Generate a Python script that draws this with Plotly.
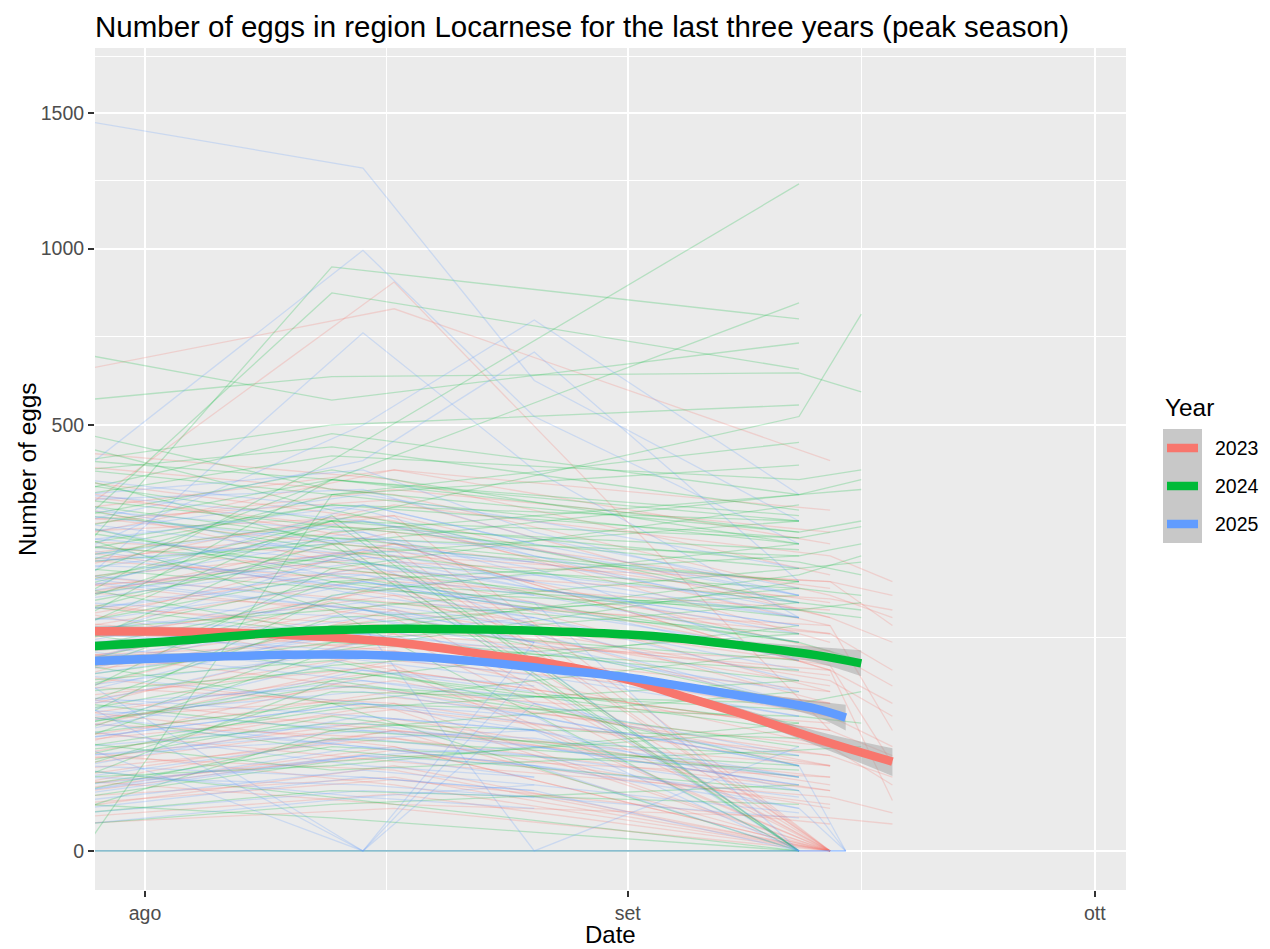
import numpy as np
import plotly.graph_objects as go

# ---------------- data (values read / estimated from the picture) ----------------
YEARS = ["2023", "2024", "2025"]
COLORS = ["#F8766D", "#00BA38", "#619CFF"]

dates_2023 = ["2025-07-27", "2025-08-17", "2025-09-14", "2025-09-18"]
traps_2023 = [
    [630, 810, 420, None], [300, 892, 40, None], [410, 350, 180, 150], [240, 310, 150, None],
    [180, 260, 90, 60], [350, 280, 0, None], [120, 190, 60, None], [90, 140, 110, 75],
    [60, 110, 30, None], [200, 150, 0, None], [150, 230, 200, 140], [45, 80, 20, None],
    [25, 60, 0, None], [270, 400, 320, None], [330, 210, 70, None], [100, 170, 140, None],
    [160, 90, 40, 25], [80, 200, 0, None], [220, 330, 240, 200], [20, 45, 10, None],
    [130, 120, 100, None], [380, 300, 120, None], [70, 160, 80, 50], [10, 30, 0, None],
    [250, 180, 50, None], [140, 260, 170, None], [5, 20, 0, None], [190, 240, 0, None],
    [110, 70, 25, 15], [290, 360, 280, None], [40, 100, 60, None], [170, 130, 0, None],
    [230, 290, 140, 40], [85, 55, 0, None], [440, 380, 210, None], [55, 130, 90, 7],
    [310, 250, 0, None], [30, 90, 40, None], [210, 170, 95, 21], [15, 40, 0, None],
    [0, 0, 0, None],
    [260, 210, 130, None], [95, 150, 75, None], [175, 280, 190, None], [35, 70, 45, None],
    [300, 340, 150, 120], [145, 110, 60, None], [65, 95, 0, None], [205, 250, 110, None],
    [125, 180, 130, 90], [12, 25, 15, None], [360, 260, 90, None], [50, 90, 0, None],
    [235, 200, 160, None], [105, 120, 50, 30], [280, 310, 0, None], [165, 140, 85, None],
    [75, 60, 20, None], [195, 215, 175, 160], [8, 15, 0, None], [320, 400, 260, None],
    [135, 210, 100, None], [45, 35, 10, None], [185, 160, 0, None], [265, 240, 200, 180],
    [90, 115, 70, None],
    [18, 35, 5, None], [6, 14, 2, None], [28, 12, 0, None], [40, 22, 8, 4],
    [3, 9, 0, None], [22, 48, 12, None], [55, 30, 0, None], [14, 6, 3, 2],
    [33, 55, 25, None], [9, 28, 6, None], [65, 40, 15, None], [2, 5, 0, None],
    [48, 65, 30, 12], [25, 18, 0, None], [12, 40, 20, None],
]

dates_2024 = ["2025-07-28", "2025-08-13", "2025-09-12", "2025-09-16"]
traps_2024 = [
    [250, 940, 780, None], [300, 858, 640, None], [180, 420, 1226, None], [680, 560, 711, None],
    [560, 620, 630, 581], [150, 380, 828, None], [200, 300, 520, 794], [420, 500, 548, None],
    [0, 350, 460, None], [350, 430, 380, 400], [260, 330, 300, None], [120, 280, 350, 360],
    [380, 260, 200, None], [90, 200, 240, None], [220, 190, 160, 150], [310, 400, 260, None],
    [60, 150, 180, None], [170, 240, 120, 100], [480, 360, 280, None], [140, 310, 0, None],
    [40, 120, 90, None], [280, 220, 330, None], [100, 170, 60, 70], [230, 350, 410, None],
    [15, 80, 140, None], [330, 270, 0, None], [190, 130, 210, 240], [70, 220, 150, None],
    [400, 450, 320, None], [130, 90, 40, None], [25, 60, 110, None], [240, 300, 230, 210],
    [160, 260, 0, None], [450, 320, 170, None], [50, 180, 260, None], [290, 200, 120, None],
    [110, 140, 190, 180], [360, 480, 350, None], [80, 100, 20, None], [210, 380, 280, 300],
    [5, 40, 70, None], [270, 160, 0, None], [35, 110, 200, None], [320, 250, 170, 160],
    [195, 290, 250, None], [0, 0, 0, None], [0, 0, 0, None],
    [180, 240, 300, None], [340, 290, 220, 230], [75, 140, 100, None], [250, 330, 270, None],
    [20, 70, 60, None], [400, 350, 260, None], [130, 200, 160, 170], [55, 95, 130, None],
    [290, 380, 310, None], [165, 130, 80, None], [10, 35, 20, None], [230, 260, 350, 380],
    [115, 175, 130, None], [370, 300, 0, None], [85, 120, 170, None], [205, 270, 200, None],
    [45, 80, 30, None], [310, 270, 240, 260], [145, 210, 120, None], [255, 230, 190, None],
    [95, 60, 0, None], [175, 300, 270, 290], [30, 55, 80, None], [420, 380, 300, None],
    [135, 160, 220, None],
    [12, 30, 18, None], [4, 10, 6, None], [28, 45, 35, None], [50, 28, 10, None],
    [8, 22, 40, None], [18, 8, 0, None], [38, 60, 50, 45], [2, 6, 12, None],
    [60, 40, 25, None], [22, 50, 15, None], [15, 20, 45, None], [45, 75, 55, None],
    [6, 3, 0, None], [32, 18, 28, 30], [70, 90, 45, None],
]

dates_2025 = ["2025-07-28", "2025-08-15", "2025-08-26", "2025-09-12", "2025-09-15"]
traps_2025 = [
    [1470, 1285, 610, 300, None], [400, 994, 520, 260, None], [250, 500, 777, 350, None],
    [300, 420, 686, 200, None], [200, 740, 400, 150, None], [350, 300, 250, None, 0],
    [120, 200, 160, None, 0], [80, 0, 120, 60, None], [60, 0, 90, None, 0],
    [180, 240, 200, None, 0], [260, 180, 150, 80, None], [40, 90, 70, None, 0],
    [150, 130, 100, 0, None], [90, 160, 140, None, 0], [220, 280, 190, 140, None],
    [20, 50, 40, 10, 0], [310, 260, 230, None, 0], [130, 110, 90, 50, None],
    [70, 140, 0, 30, None], [240, 190, 170, 0, None], [10, 30, 20, 0, None],
    [190, 330, 260, None, 0], [110, 80, 60, 25, None], [280, 350, 300, 220, None],
    [50, 70, 50, 0, None], [160, 210, 180, None, 0], [330, 230, 140, 70, None],
    [30, 0, 60, 20, 0], [210, 170, 120, None, 0], [100, 190, 210, 170, None],
    [140, 100, 80, 0, None], [380, 320, 240, 150, None], [60, 120, 100, None, 0],
    [230, 270, 220, 100, None], [15, 35, 25, 5, 0], [170, 150, 110, None, 0],
    [270, 230, 180, 120, None], [85, 60, 40, 0, None], [125, 250, 200, None, 0],
    [45, 105, 85, 50, None], [290, 200, 160, None, 0], [5, 15, 10, 0, 0],
    [200, 160, 130, 60, None], [95, 130, 150, None, 0], [350, 400, 280, 180, None],
    [0, 0, 0, 0, 0], [0, 0, 0, 0, 0], [0, 0, 0, 0, 0],
    [175, 230, 190, 140, None], [55, 80, 65, None, 0], [240, 300, 240, 170, None],
    [100, 150, 120, None, 0], [320, 280, 210, 150, None], [25, 40, 35, 15, None],
    [145, 200, 170, 100, None], [205, 160, 120, None, 0], [75, 110, 95, 55, None],
    [265, 330, 260, 180, None], [115, 90, 75, None, 0], [185, 250, 230, 160, None],
    [35, 60, 50, 20, None], [295, 240, 190, 130, None], [135, 170, 140, None, 0],
    [65, 50, 40, 15, None], [225, 210, 160, 110, None], [160, 220, 200, 150, None],
    [10, 25, 15, None, 0], [250, 190, 150, 90, None], [85, 130, 110, 70, None],
    [340, 360, 270, 190, None], [120, 140, 100, None, 0], [200, 270, 250, 180, None],
    [50, 30, 20, 5, None],
    [12, 25, 20, 8, None], [4, 10, 8, None, 0], [30, 45, 30, 12, None],
    [18, 8, 12, None, 0], [45, 30, 25, 10, None], [7, 18, 12, 4, None],
    [25, 35, 40, None, 0], [55, 40, 30, 15, None], [2, 8, 5, None, 0],
    [35, 60, 45, 25, None], [15, 12, 8, 3, None], [40, 20, 15, None, 0],
    [9, 25, 30, 12, None], [60, 75, 50, 20, None], [20, 15, 10, None, 0],
]

# smoothed trend per year with confidence band
smooth_dates_2023 = ["2025-07-28", "2025-08-07", "2025-08-17", "2025-08-23", "2025-08-27",
                     "2025-09-01", "2025-09-04", "2025-09-08", "2025-09-13", "2025-09-18"]
smooth_fit_2023 = [133, 131, 120, 106, 97, 81, 68, 53, 35, 22]
smooth_lo_2023 = [127, 126, 116, 102, 94, 78, 65, 50, 31, 15.5]
smooth_hi_2023 = [140, 136, 124, 109, 100, 84, 71, 57, 40, 29]

smooth_dates_2024 = ["2025-07-28", "2025-08-04", "2025-08-10", "2025-08-17", "2025-08-23", "2025-08-27",
                     "2025-09-01", "2025-09-04", "2025-09-08", "2025-09-13", "2025-09-16"]
smooth_fit_2024 = [115, 123, 132, 136, 135, 133, 129, 125, 117, 106, 97]
smooth_lo_2024 = [109, 118, 128, 132, 131, 129, 125, 121, 112, 98, 84]
smooth_hi_2024 = [120, 127, 136, 140, 139, 137, 133, 129, 122, 115, 111]

smooth_dates_2025 = ["2025-07-28", "2025-08-10", "2025-08-17", "2025-08-23", "2025-08-27",
                     "2025-09-01", "2025-09-04", "2025-09-08", "2025-09-13", "2025-09-15"]
smooth_fit_2025 = [99, 106, 105, 98, 91, 83, 76, 67, 56, 49]
smooth_lo_2025 = [94, 102, 101, 95, 88, 80, 73, 64, 50, 40]
smooth_hi_2025 = [105, 110, 109, 101, 94, 86, 79, 71, 62, 59]

y_tick_values = [0, 500, 1000, 1500]
x_tick_dates = ["2025-08-01", "2025-09-01", "2025-10-01"]
x_tick_labels = ["ago", "set", "ott"]
x_minor_dates = ["2025-08-16 12:00", "2025-09-16"]
x_range = ["2025-07-28 19:00", "2025-10-03 00:00"]
y_range_values = [-4.2, 1776.6]  # signed squares of the sqrt-scale panel limits

TITLE = "Number of eggs in region Locarnese for the last three years (peak season)"
FONT = "Liberation Sans, Arial, Helvetica, sans-serif"

# page geometry (the html body adds an 8 px margin around the figure)
PAGE_OFF = 8
FIG_W, FIG_H = 1254, 941
PANEL_L, PANEL_R, PANEL_T, PANEL_B = 95, 1126, 48, 890


def sq(vals):
    a = np.array(vals, dtype=float)
    return np.sign(a) * np.sqrt(np.abs(a))


def rgba(hex_color, alpha):
    h = hex_color.lstrip("#")
    r, g, b = int(h[0:2], 16), int(h[2:4], 16), int(h[4:6], 16)
    return f"rgba({r},{g},{b},{alpha})"


fig = go.Figure()

# faint per-trap lines
for dates, traps, color in [(dates_2023, traps_2023, COLORS[0]),
                            (dates_2024, traps_2024, COLORS[1]),
                            (dates_2025, traps_2025, COLORS[2])]:
    for trap in traps:
        fig.add_trace(go.Scatter(
            x=dates, y=sq(trap), mode="lines",
            line=dict(color=rgba(color, 0.23), width=1.3),
            hoverinfo="skip", showlegend=False))

# smooth curves with grey ribbons
for sd, fit, lo, hi, color in [
        (smooth_dates_2023, smooth_fit_2023, smooth_lo_2023, smooth_hi_2023, COLORS[0]),
        (smooth_dates_2024, smooth_fit_2024, smooth_lo_2024, smooth_hi_2024, COLORS[1]),
        (smooth_dates_2025, smooth_fit_2025, smooth_lo_2025, smooth_hi_2025, COLORS[2])]:
    fig.add_trace(go.Scatter(x=sd, y=sq(lo), mode="lines",
                             line=dict(width=0, shape="spline", color="rgba(0,0,0,0)"),
                             hoverinfo="skip", showlegend=False))
    fig.add_trace(go.Scatter(x=sd, y=sq(hi), mode="lines", fill="tonexty",
                             fillcolor="rgba(153,153,153,0.45)",
                             line=dict(width=0, shape="spline", color="rgba(0,0,0,0)"),
                             hoverinfo="skip", showlegend=False))
    fig.add_trace(go.Scatter(x=sd, y=sq(fit), mode="lines",
                             line=dict(width=8.5, shape="spline", color=color),
                             hoverinfo="skip", showlegend=False))

# y = 0 reference line
fig.add_shape(type="line", xref="paper", x0=0, x1=1, yref="y", y0=0, y1=0,
              line=dict(color="black", width=2), layer="between")

yt = list(sq(y_tick_values))
y_minor = [(yt[i] + yt[i + 1]) / 2 for i in range(len(yt) - 1)]
y_minor.append((yt[-1] + np.sqrt(2000)) / 2)

fig.update_layout(
    width=FIG_W, height=FIG_H, autosize=False,
    margin=dict(l=PANEL_L - PAGE_OFF, r=FIG_W + PAGE_OFF - PANEL_R,
                t=PANEL_T - PAGE_OFF, b=FIG_H + PAGE_OFF - PANEL_B, pad=0),
    paper_bgcolor="white", plot_bgcolor="#EBEBEB",
    showlegend=False,
    font=dict(family=FONT, color="black"),
    title=dict(text=TITLE, x=0, xref="paper", xanchor="left",
               y=1 - (27 - PAGE_OFF) / FIG_H, yref="container", yanchor="middle",
               font=dict(size=29.5, color="black", family=FONT)),
    xaxis=dict(type="date", range=x_range,
               tickmode="array", tickvals=x_tick_dates, ticktext=x_tick_labels,
               ticks="outside", ticklen=6, tickwidth=2, tickcolor="#333333",
               tickfont=dict(size=19.5, color="#4D4D4D", family=FONT),
               showgrid=True, gridcolor="white", gridwidth=2.2,
               minor=dict(tickmode="array", tickvals=x_minor_dates, showgrid=True,
                          gridcolor="white", gridwidth=1.1, ticks=""),
               showline=False, zeroline=False),
    yaxis=dict(range=list(sq(y_range_values)),
               tickmode="array", tickvals=yt, ticktext=[str(v) for v in y_tick_values],
               ticks="outside", ticklen=6, tickwidth=2, tickcolor="#333333",
               tickfont=dict(size=19.5, color="#4D4D4D", family=FONT),
               showgrid=True, gridcolor="white", gridwidth=2.2,
               minor=dict(tickmode="array", tickvals=y_minor, showgrid=True,
                          gridcolor="white", gridwidth=1.1, ticks=""),
               showline=False, zeroline=False),
)


def px_x(px):
    return (px - PANEL_L) / (PANEL_R - PANEL_L)


def px_y(py):
    return (PANEL_B - py) / (PANEL_B - PANEL_T)


# axis titles
fig.add_annotation(text="Date", xref="paper", yref="paper", x=0.5, y=px_y(934),
                   xanchor="center", yanchor="middle", showarrow=False,
                   font=dict(size=24, color="black", family=FONT))
fig.add_annotation(text="Number of eggs", xref="paper", yref="paper", x=px_x(27), y=0.5,
                   xanchor="center", yanchor="middle", textangle=-90, showarrow=False,
                   font=dict(size=24.4, color="black", family=FONT))

# legend (drawn manually to match ggplot key style)
fig.add_annotation(text="Year", xref="paper", yref="paper", x=px_x(1163), y=px_y(407),
                   xanchor="left", yanchor="middle", showarrow=False,
                   font=dict(size=24.4, color="black", family=FONT))
fig.add_shape(type="rect", xref="paper", yref="paper",
              x0=px_x(1163), x1=px_x(1202), y0=px_y(543), y1=px_y(429),
              fillcolor="#C8C8C8", line=dict(width=0), layer="above")
for i, (yr, col) in enumerate(zip(YEARS, COLORS)):
    cy = 448 + 38 * i
    fig.add_shape(type="line", xref="paper", yref="paper",
                  x0=px_x(1167), x1=px_x(1198), y0=px_y(cy), y1=px_y(cy),
                  line=dict(color=col, width=8.5), layer="above")
    fig.add_annotation(text=yr, xref="paper", yref="paper", x=px_x(1213), y=px_y(cy),
                       xanchor="left", yanchor="middle", showarrow=False,
                       font=dict(size=19.5, color="black", family=FONT))

fig.write_html("out.html")
